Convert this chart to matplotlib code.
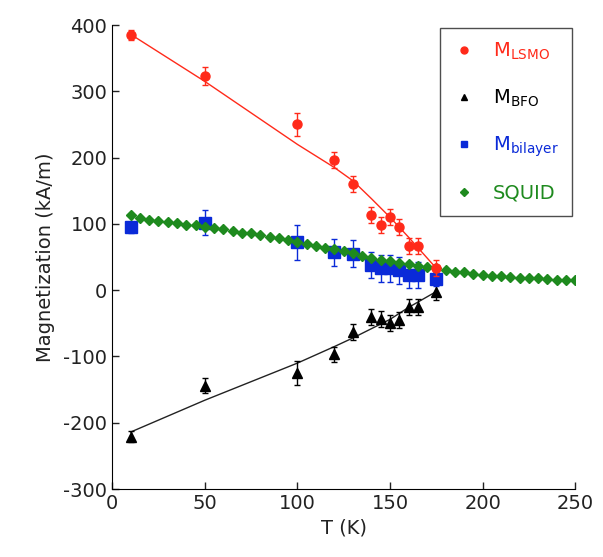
# %% Magnetization vs temperature for LSMO / BFO bilayer

import matplotlib.pyplot as plt
import matplotlib as mpl
from matplotlib.lines import Line2D

# %% Data

# LSMO layer
t_lsmo = [10, 50, 100, 120, 130, 140, 145, 150, 155, 160, 165, 175]
m_lsmo = [385, 323, 250, 197, 160, 113, 98, 111, 96, 67, 67, 33]
e_lsmo = [8, 13, 17, 12, 12, 12, 12, 12, 12, 12, 12, 12]

# LSMO fit line
t_lsmo_fit = [10, 50, 100, 120, 130, 140, 150, 160, 175]
m_lsmo_fit = [386, 315, 220, 185, 165, 138, 110, 80, 33]

# BFO layer
t_bfo = [10, 50, 100, 120, 130, 140, 145, 150, 155, 160, 165, 175]
m_bfo = [-221, -144, -125, -97, -63, -41, -43, -50, -45, -25, -25, -3]
e_bfo = [8, 11, 18, 12, 12, 12, 12, 12, 12, 12, 12, 12]

# BFO fit line
t_bfo_fit = [10, 50, 100, 120, 130, 140, 150, 160, 175]
m_bfo_fit = [-214, -166, -110, -85, -72, -58, -44, -26, -2]

# Bilayer total
t_bil = [10, 50, 100, 120, 130, 140, 145, 150, 155, 160, 165, 175]
m_bil = [95, 102, 72, 57, 55, 38, 33, 33, 30, 23, 23, 17]
e_bil = [8, 19, 26, 20, 20, 20, 20, 20, 20, 20, 20, 10]

# SQUID measurement
t_squid = [10, 15, 20, 25, 30, 35, 40, 45, 50, 55, 60, 65, 70, 75, 80, 85, 90, 95,
           100, 105, 110, 115, 120, 125, 130, 135, 140, 145, 150, 155, 160, 165,
           170, 175, 180, 185, 190, 195, 200, 205, 210, 215, 220, 225, 230, 235,
           240, 245, 250]
m_squid = [114, 109, 106, 104, 103, 101, 99, 98, 95, 94, 92, 89, 87, 86, 83, 80, 78, 75,
           73, 69, 67, 64, 62, 59, 56, 52, 49, 46, 44, 41, 39, 37,
           35, 33, 30, 28, 27, 25, 23, 22, 21, 20, 19, 18, 18, 17,
           16, 16, 15]

# %% Colours

red = '#ff2a1a'
black = '#000000'
blue = '#0a2ad8'
green = '#1e8a1e'

mpl.rcParams['mathtext.default'] = 'regular'
mpl.rcParams['font.family'] = 'DejaVu Sans'
mpl.rcParams['axes.unicode_minus'] = False

# %% Plot

fig = plt.figure(figsize=(6.03, 5.57), dpi=100)
ax = fig.add_axes([0.186, 0.122, 0.768, 0.833])

# Fit lines
ax.plot(t_lsmo_fit, m_lsmo_fit, color=red, lw=1, zorder=1)
ax.plot(t_bfo_fit, m_bfo_fit, color='#222222', lw=1, zorder=1)

# Data with error bars
ax.errorbar(t_bfo, m_bfo, yerr=e_bfo, fmt='^', color=black, ms=7, elinewidth=1,
            capsize=2.5, capthick=1, zorder=2)
ax.errorbar(t_bil, m_bil, yerr=e_bil, fmt='s', color=blue, ms=8, elinewidth=1,
            capsize=2.5, capthick=1, zorder=2)
ax.plot(t_squid, m_squid, 'D', color=green, ms=5.5, mec=green, zorder=3)
ax.errorbar(t_lsmo, m_lsmo, yerr=e_lsmo, fmt='o', color=red, ms=6.5, elinewidth=1,
            capsize=2.5, capthick=1, zorder=4)

# Axes styling
ax.set_xlim(0, 250)
ax.set_ylim(-300, 400)
ax.set_xticks([0, 50, 100, 150, 200, 250])
ax.set_yticks([-300, -200, -100, 0, 100, 200, 300, 400])
ax.spines['top'].set_visible(False)
ax.spines['right'].set_visible(False)
ax.tick_params(direction='in', length=5, width=1, labelsize=14, colors='#222222')
ax.set_xlabel('T (K)', fontsize=14, color='#222222', labelpad=4)
ax.set_ylabel('Magnetization (kA/m)', fontsize=14, color='#222222', labelpad=6)

# Legend (markers only)
handles = [
    Line2D([], [], marker='o', ls='', color=red, ms=5),
    Line2D([], [], marker='^', ls='', color=black, ms=5),
    Line2D([], [], marker='s', ls='', color=blue, ms=5),
    Line2D([], [], marker='D', ls='', color=green, ms=4),
]
labels = [r'M$_{LSMO}$', r'M$_{BFO}$', r'M$_{bilayer}$', 'SQUID']
leg = ax.legend(handles, labels, loc='upper right', bbox_to_anchor=(0.992, 0.993),
                fontsize=14, frameon=True, fancybox=False, edgecolor='#222222',
                handlelength=1.2, handletextpad=0.9, labelspacing=1.3,
                borderpad=0.65, borderaxespad=0)
leg.get_frame().set_linewidth(1)
for txt, c in zip(leg.get_texts(), [red, black, blue, green]):
    txt.set_color(c)

fig.savefig('out.png', dpi=100)
